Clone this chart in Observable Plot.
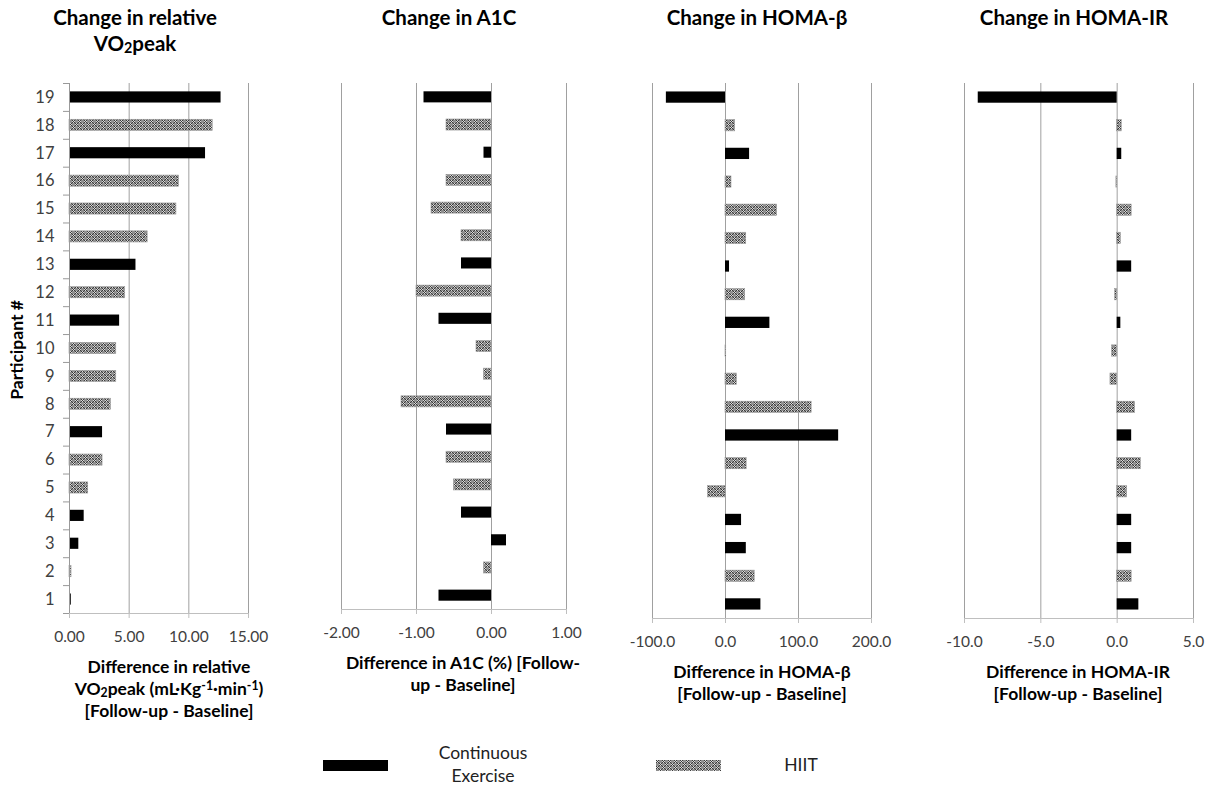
<!DOCTYPE html>
<html>
<head>
<meta charset="utf-8">
<script src="https://cdn.jsdelivr.net/npm/d3@7"></script>
<script src="https://cdn.jsdelivr.net/npm/@observablehq/plot@0.6"></script>
<style>
  body { margin: 0; background: white; font-family: Lato, "Open Sans", sans-serif; }
  #root { position: relative; width: 1217px; height: 789px; overflow: hidden; background: white; }
  .abs { position: absolute; transform: translate(-50%, -50%); white-space: nowrap; text-align: center; }
  .title { font-weight: bold; font-size: 20.5px; color: #000; line-height: 26px; }
  .xlab { font-weight: bold; font-size: 17.5px; color: #000; line-height: 22px; }
  .leg { font-size: 17.5px; color: #222; line-height: 23px; }
  .panel { position: absolute; top: 0; }
  sub { font-size: 0.7em; line-height: 0; vertical-align: -0.15em; }
  sup { font-size: 0.7em; line-height: 0; vertical-align: 0.4em; }
</style>
</head>
<body>
<svg width="0" height="0" style="position:absolute">
  <defs>
    <pattern id="hiit" patternUnits="userSpaceOnUse" width="6" height="6">
      <rect width="6" height="6" fill="#8e8e8e"/>
      <rect x="0" y="0" width="1" height="1" fill="#3a3a3a"/>
      <rect x="2" y="0" width="1" height="1" fill="#3a3a3a"/>
      <rect x="1" y="1" width="1" height="1" fill="#3a3a3a"/>
      <rect x="0" y="2" width="1" height="1" fill="#3a3a3a"/>
      <rect x="2" y="2" width="1" height="1" fill="#3a3a3a"/>
      <rect x="1" y="0" width="1" height="1" fill="#d8d8d8"/>
      <rect x="0" y="1" width="1" height="1" fill="#d8d8d8"/>
      <rect x="2" y="1" width="1" height="1" fill="#d8d8d8"/>
      <rect x="1" y="2" width="1" height="1" fill="#d8d8d8"/>
      <rect x="3" y="3" width="1" height="1" fill="#3a3a3a"/>
      <rect x="5" y="3" width="1" height="1" fill="#3a3a3a"/>
      <rect x="4" y="4" width="1" height="1" fill="#3a3a3a"/>
      <rect x="3" y="5" width="1" height="1" fill="#3a3a3a"/>
      <rect x="5" y="5" width="1" height="1" fill="#3a3a3a"/>
      <rect x="4" y="3" width="1" height="1" fill="#d8d8d8"/>
      <rect x="3" y="4" width="1" height="1" fill="#d8d8d8"/>
      <rect x="5" y="4" width="1" height="1" fill="#d8d8d8"/>
      <rect x="4" y="5" width="1" height="1" fill="#d8d8d8"/>
    </pattern>
  </defs>
</svg>
<div id="root"></div>
<script>
// ---- data ----
const participants = [1,2,3,4,5,6,7,8,9,10,11,12,13,14,15,16,17,18,19];
const group = ["Continuous Exercise","HIIT","Continuous Exercise","Continuous Exercise","HIIT","HIIT","Continuous Exercise","HIIT","HIIT","HIIT","Continuous Exercise","HIIT","Continuous Exercise","HIIT","HIIT","HIIT","Continuous Exercise","HIIT","Continuous Exercise"];
const vo2peak = [0.15,0.17,0.78,1.23,1.57,2.77,2.77,3.47,3.92,3.92,4.2,4.67,5.57,6.55,8.96,9.18,11.4,12.0,12.7];
const a1c = [-0.7,-0.1,0.2,-0.4,-0.5,-0.6,-0.6,-1.2,-0.1,-0.2,-0.7,-1.0,-0.4,-0.4,-0.8,-0.6,-0.1,-0.6,-0.9];
const homaB = [48.5,40,28.5,22,-24,29,155,118,15.5,1,60.8,27,5.5,28.4,70.8,8.2,33,13.3,-81];
const homaIR = [1.42,0.95,0.95,0.95,0.65,1.55,0.95,1.18,-0.44,-0.33,0.24,-0.13,0.95,0.24,0.95,-0.05,0.3,0.3,-9.1];
const ticksVO2 = [0,5,10,15];
const ticksA1C = [-2,-1,0,1];
const ticksB = [-100,0,100,200];
const ticksIR = [-10,-5,0,5];
const rowBoundaries = [0.5,1.5,2.5,3.5,4.5,5.5,6.5,7.5,8.5,9.5,10.5,11.5,12.5,13.5,14.5,15.5,16.5,17.5,18.5,19.5];

const root = document.getElementById("root");

function panel({values, ticks, grid, digits, left, width, height, ml, mr, bottom, yAxis}) {
  const data = participants.map((p, i) => ({p, v: values[i], g: group[i]}));
  const marks = [
    Plot.ruleX(grid, {stroke: "#a0a0a0", strokeWidth: 1}),
    Plot.ruleY([0.5], {stroke: "#bfbfbf"}),
    Plot.rectX(data.filter(d => d.g === "HIIT"), {x1: 0, x2: "v", y1: d => d.p - 0.2, y2: d => d.p + 0.2, fill: "url(#hiit)", stroke: "#9a9a9a", strokeWidth: 0.6}),
    Plot.rectX(data.filter(d => d.g !== "HIIT"), {x1: 0, x2: "v", y1: d => d.p - 0.2, y2: d => d.p + 0.2, fill: "black"}),
    Plot.axisX({ticks, tickSize: 5, tickFormat: () => "", color: "#bfbfbf", label: null}),
    Plot.axisX({ticks, tickSize: 0, tickPadding: 17, tickFormat: d => d.toFixed(digits), color: "#404040", fontSize: 15.5, label: null})
  ];
  if (yAxis) {
    marks.push(Plot.ruleX([0], {stroke: "#999"}));
    marks.push(Plot.axisY({ticks: rowBoundaries, tickSize: 6, tickFormat: () => "", color: "#999", label: null}));
    marks.push(Plot.axisY({ticks: participants, tickSize: 0, tickPadding: 15, tickFormat: d => String(d), color: "#404040", fontSize: 16.5, label: null}));
  }
  const svg = Plot.plot({
    width, height,
    marginLeft: ml, marginRight: mr, marginTop: 83, marginBottom: height - bottom,
    style: {fontFamily: "Lato, 'Open Sans', sans-serif", fontSize: "15px", background: "transparent", overflow: "visible"},
    x: {domain: [ticks[0], ticks[ticks.length - 1]], axis: null},
    y: {domain: [0.5, 19.5], axis: null},
    marks
  });
  const div = document.createElement("div");
  div.className = "panel";
  div.style.left = left + "px";
  div.appendChild(svg);
  root.appendChild(div);
}

panel({values: vo2peak, ticks: ticksVO2, grid: [5,10,15], digits: 2, left: 0, width: 272, height: 650, ml: 69, mr: 24, bottom: 613, yAxis: true});
panel({values: a1c, ticks: ticksA1C, grid: ticksA1C, digits: 2, left: 300, width: 300, height: 650, ml: 41, mr: 34, bottom: 609, yAxis: false});
panel({values: homaB, ticks: ticksB, grid: ticksB, digits: 1, left: 610, width: 290, height: 655, ml: 42, mr: 29, bottom: 618, yAxis: false});
panel({values: homaIR, ticks: ticksIR, grid: ticksIR, digits: 1, left: 920, width: 297, height: 655, ml: 44, mr: 24, bottom: 618, yAxis: false});

function label(html, x, y, cls, extra) {
  const d = document.createElement("div");
  d.className = "abs " + cls;
  d.style.left = x + "px";
  d.style.top = y + "px";
  if (extra) d.style.transform = extra;
  d.innerHTML = html;
  root.appendChild(d);
}

// titles
label("Change in relative<br>VO<sub>2</sub>peak", 135, 30, "title");
label("Change in A1C", 449, 17, "title");
label("Change in HOMA-β", 757, 17, "title");
label("Change in HOMA-IR", 1074, 17, "title");

// x-axis titles
label("Difference in relative<br>VO<sub>2</sub>peak (mL·Kg<sup>-1</sup>·min<sup>-1</sup>)<br>[Follow-up - Baseline]", 169, 689, "xlab");
label("Difference in A1C (%) [Follow-<br>up - Baseline]", 463, 674, "xlab");
label("Difference in HOMA-β<br>[Follow-up - Baseline]", 762, 683, "xlab");
label("Difference in HOMA-IR<br>[Follow-up - Baseline]", 1078, 683, "xlab");

// y-axis title
label("Participant #", 17, 350, "xlab", "translate(-50%,-50%) rotate(-90deg)");

// legend
const legendItems = [
  {name: group[0], fill: "black", x: 323, tx: 483, html: "Continuous<br>Exercise"},
  {name: "HIIT", fill: "url(#hiit)", x: 656, tx: 801, html: "HIIT"}
];
for (const it of legendItems) {
  const s = document.createElementNS("http://www.w3.org/2000/svg", "svg");
  s.setAttribute("width", 66); s.setAttribute("height", 11);
  s.style.position = "absolute"; s.style.left = it.x + "px"; s.style.top = "760px";
  const r = document.createElementNS("http://www.w3.org/2000/svg", "rect");
  r.setAttribute("width", 65); r.setAttribute("height", 11); r.setAttribute("fill", it.fill);
  s.appendChild(r);
  root.appendChild(s);
  label(it.html, it.tx, 764, "leg");
}
</script>
</body>
</html>
